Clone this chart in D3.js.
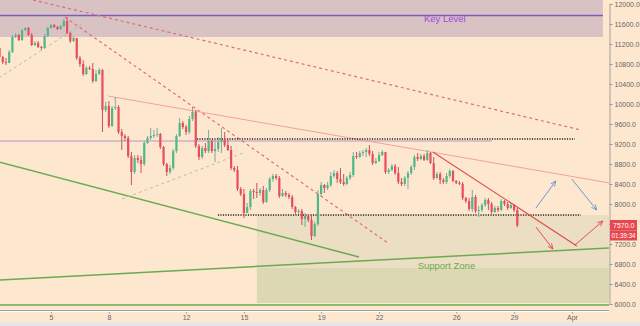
<!DOCTYPE html>
<html><head><meta charset="utf-8">
<script src="https://cdn.jsdelivr.net/npm/d3@7"></script>
<style>html,body{margin:0;padding:0;background:#fde8cf;overflow:hidden}svg{display:block}</style>
</head><body><svg id="c" width="640" height="326"></svg>
<script>
// ---------- data ----------
const candleStart = Date.UTC(2018, 2, 2, 8); // first 4h candle
const candleHours = 4;
const firstOpen = 11120;
const closes = [10940,10840,10820,11040,11340,11380,11280,11480,11520,11380,11180,11220,11140,11120,11360,11520,11580,11540,11500,11560,11660,11420,11260,11320,10920,10800,10600,10720,10700,10460,10600,10680,9880,9960,9560,9920,9940,9440,9360,9320,8960,8640,8920,8880,8800,9220,9320,9360,9380,9400,9140,8800,8640,8720,9060,9360,9620,9540,9440,9700,9840,9160,8940,9120,9060,9260,9060,9100,9240,9280,9180,9080,8720,8680,8300,8200,7820,7940,8260,8240,8220,8280,8040,8280,8500,8560,8520,8160,8220,8180,8140,7940,7840,7860,7700,7760,7680,7360,7600,8200,8380,8320,8380,8560,8620,8500,8440,8400,8520,8580,8960,8940,9020,9040,9080,9000,8820,8860,8980,9040,8640,8680,8760,8620,8440,8400,8520,8620,8740,8940,8900,8960,8880,9020,8820,8520,8600,8480,8440,8560,8660,8460,8420,8400,8120,8060,7900,8140,7860,7880,7980,8080,8000,7840,7920,7880,8060,8000,7920,7980,7880,7570];
const highs = [11160,10960,10920,11080,11380,11420,11400,11500,11540,11540,11420,11260,11260,11160,11400,11540,11600,11600,11560,11580,11700,11740,11440,11360,11320,10960,10880,10760,10760,10820,10680,10720,10700,10040,10060,9960,10140,9980,9500,9400,9360,9040,8980,8980,8960,9260,9360,9520,9480,9520,9420,9160,8820,8780,9100,9400,9720,9660,9580,9760,9940,9880,9200,9160,9220,9480,9280,9320,9340,9520,9440,9300,9160,8760,8760,8340,8300,8020,8300,8300,8420,8320,8360,8320,8540,8600,8600,8560,8300,8260,8220,8180,7960,7900,7900,7820,7800,7800,7640,8280,8440,8400,8440,8640,8680,8660,8720,8600,8560,8640,9040,9040,9060,9080,9120,9180,9060,8920,9040,9080,9020,8720,8800,8800,8740,8520,8560,8660,8780,8980,9020,9000,9000,9080,9040,8940,8640,8640,8520,8620,8700,8680,8480,8460,8440,8140,8120,8280,8180,7960,8020,8120,8120,8040,7960,7960,8100,8080,8040,8020,8000,7920];
const lows = [10920,10800,10780,10820,11020,11320,11260,11260,11460,11360,11160,11160,11120,11080,11100,11340,11500,11520,11480,11480,11540,11400,11220,11240,10880,10740,10560,10580,10680,10420,10440,10580,9440,9840,9520,9540,9880,9400,9080,9260,8920,8380,8600,8820,8620,8760,9200,9280,9320,9340,9100,8760,8560,8600,8680,9020,9340,9500,9380,9400,9660,9120,8880,8900,9020,9020,9020,8840,9040,9020,9140,9060,8680,8640,8260,8160,7720,7880,7880,8100,8120,8160,8000,8020,8240,8440,8480,8120,8140,8140,8100,7900,7800,7800,7580,7540,7640,7280,7340,7560,8160,8220,8280,8340,8520,8420,8400,8360,8380,8480,8540,8900,8920,8960,8940,8960,8780,8800,8840,8960,8600,8600,8660,8580,8400,8360,8360,8300,8580,8680,8860,8880,8860,8860,8800,8480,8500,8400,8400,8400,8520,8440,8400,8380,8080,8020,7860,7840,7820,7740,7840,7940,7880,7800,7820,7840,7860,7960,7880,7900,7840,7540];

const priceTicks = [6000,6400,6800,7200,7600,8000,8400,8800,9200,9600,10000,10400,10800,11200,11600,12000];
const dateTicks = [5,8,12,15,19,22,26,29,32];
const dateTickLabels = ["5","8","12","15","19","22","26","29","Apr"];

// annotation geometry in [day of March, price]
const keyZone = [[2.3, 12100],[33.6, 11340]];
const keyLevel = 11770;
const keyLabel = [24.33, 11640, "Key Level"];
const supportZoneUpper = [[15.67, 7780],[33.96, 6720]];
const supportZoneLower = [[15.67, 6720],[33.96, 6020]];
const supportLabel = [24.0, 6700, "Support Zone"];
const redDashedLong = [[4.07, 12080],[32.46, 9480]];
const redDashedSteep = [[5.72, 11740],[22.46, 7220]];
const greenDashed1 = [[2.3, 10520],[6.76, 11640]];
const greenDashed2 = [[8.68, 8100],[14.95, 9020]];
const lightRedLine = [[7.95, 10160],[33.96, 8420]];
const redTrend = [[24.79, 9040],[32.25, 7160]];
const greenDesc = [[2.3, 8840],[20.96, 6940]];
const greenSupport = [[2.3, 6480],[33.91, 7120]];
const greenFloor = [[2.3, 5980],[33.96, 5980]];
const dottedUpper = [[12.56, 9300],[32.15, 9300]];
const dottedLower = [[13.65, 7780],[32.46, 7780]];
const faintLine = [[2.3, 9260],[27.85, 9260]];
const blueArrows = [[[30.13, 7920],[31.16, 8460]], [[31.99, 8500],[33.28, 7880]]];
const redArrows = [[[30.13, 7540],[31.01, 7100]], [[32.15, 7180],[33.6, 7660]]];
const lastPrice = 7570;
const countdown = "01:39:34";

// ---------- scales ----------
const day = d => new Date(Date.UTC(2018, 2, 1) + (d - 1) * 86400000);
const x = d3.scaleUtc().domain([day(5), day(32)]).range([51, 572]);
const y = d3.scaleLinear().domain([6000, 12000]).range([304, 4]);
const X = d => x(day(d));

const svg = d3.select("#c");
svg.append("rect").attr("width",640).attr("height",326).attr("fill","#fde8cf");

const defs = svg.append("defs");
defs.append("clipPath").attr("id","plot").append("rect").attr("x",0).attr("y",0).attr("width",609).attr("height",310);
function marker(id, color){
  defs.append("marker").attr("id",id).attr("viewBox","0 0 10 10").attr("refX",9).attr("refY",5)
    .attr("markerWidth",6).attr("markerHeight",6).attr("orient","auto")
    .append("path").attr("d","M0,1 L9,5 L0,9").attr("fill","none").attr("stroke",color).attr("stroke-width",1.4);
}
marker("ab","#6f95d8"); marker("ar","#e0504a");

const g = svg.append("g").attr("clip-path","url(#plot)");

function rectZone(z, fill){
  g.append("rect").attr("x",X(z[0][0])).attr("y",y(z[0][1]))
   .attr("width",X(z[1][0])-X(z[0][0])).attr("height",y(z[1][1])-y(z[0][1])).attr("fill",fill);
}
rectZone(keyZone,"#d8c2c4");
rectZone(supportZoneUpper,"#ecdec2");
rectZone(supportZoneLower,"#dcd8b2");

function seg(p, stroke, w, dash, op, mk){
  const l = g.append("line").attr("x1",X(p[0][0])).attr("y1",y(p[0][1])).attr("x2",X(p[1][0])).attr("y2",y(p[1][1]))
    .attr("stroke",stroke).attr("stroke-width",w).attr("opacity",op||1);
  if (dash) l.attr("stroke-dasharray",dash);
  if (mk) l.attr("marker-end","url(#"+mk+")");
  return l;
}
seg(faintLine,"#d2b4c8",2,null,0.8);
seg([[2.3,keyLevel],[33.6,keyLevel]],"#7e5bbf",1.5);
seg(greenFloor,"#6aaa50",1.5);
seg(greenSupport,"#6aaa50",1.5);
seg(greenDesc,"#6aaa50",1.5);
seg(greenDashed1,"#a9c98e",1,"3,3");
seg(greenDashed2,"#a9c98e",1,"3,3");
seg(redDashedLong,"#e06b78",1.2,"3,3");
seg(redDashedSteep,"#e06b78",1.2,"3,3");
seg(lightRedLine,"#f2a09c",1);
seg(dottedUpper,"#222",1.3,"1.2,1.3");
seg(dottedLower,"#222",1.3,"1.2,1.3");

// candles
const bw = 2.2;
const cg = g.append("g");
closes.forEach((c,i)=>{
  const t = new Date(candleStart + i*candleHours*3600000);
  const o = i===0 ? firstOpen : closes[i-1];
  const up = c >= o;
  const cx = x(t);
  cg.append("line").attr("x1",cx).attr("x2",cx).attr("y1",y(highs[i])).attr("y2",y(lows[i]))
    .attr("stroke", up ? "#7fa8a0" : "#c2555d").attr("stroke-width",1);
  const top = y(Math.max(o,c)), bot = y(Math.min(o,c));
  cg.append("rect").attr("x",cx-bw/2).attr("y",top).attr("width",bw).attr("height",Math.max(1,bot-top))
    .attr("fill", up ? "#4fb886" : "#ea4d5c");
});

seg(redTrend,"#e0504a",1.2);
blueArrows.forEach(a=>seg(a,"#6f95d8",1,null,1,"ab"));
redArrows.forEach(a=>seg(a,"#e0504a",1,null,1,"ar"));

g.append("text").attr("x",X(keyLabel[0])).attr("y",y(keyLabel[1])).text(keyLabel[2])
  .attr("fill","#a347e6").attr("font-family","Liberation Sans, Arial, sans-serif").attr("font-size",9.5);
g.append("text").attr("x",X(supportLabel[0])).attr("y",y(supportLabel[1])).text(supportLabel[2])
  .attr("fill","#6aa84f").attr("font-family","Liberation Sans, Arial, sans-serif").attr("font-size",9.5);

// axes
const yAxis = d3.axisRight(y).tickValues(priceTicks).tickSize(3).tickPadding(2).tickFormat(d3.format(".1f"));
const ya = svg.append("g").attr("transform","translate(609.5,0)").call(yAxis);
const xAxis = d3.axisBottom(x).tickValues(dateTicks.map(day)).tickSize(3).tickPadding(2)
  .tickFormat((d,i)=>dateTickLabels[i]);
const xa = svg.append("g").attr("transform","translate(0,310.5)").call(xAxis);
[ya,xa].forEach(a=>{
  a.selectAll("text").attr("fill","#666").attr("font-family","Liberation Sans, Arial, sans-serif").attr("font-size",7);
  a.selectAll("line").attr("stroke","#999");
  a.select(".domain").attr("stroke","#a0a0a0");
});
xa.select(".domain").attr("d","M0,0H609");
svg.append("line").attr("x1",0).attr("x2",609).attr("y1",311.5).attr("y2",311.5).attr("stroke","#fff");
svg.append("rect").attr("x",0).attr("y",322).attr("width",640).attr("height",4).attr("fill","#e6e6e6");

// last price labels
const lp = svg.append("g");
lp.append("rect").attr("x",610).attr("y",y(lastPrice)-5.5).attr("width",27).attr("height",10.5).attr("fill","#e8474f");
lp.append("text").attr("x",613).attr("y",y(lastPrice)+2.5).text(d3.format(".1f")(lastPrice))
  .attr("fill","#fff").attr("font-family","Liberation Sans, Arial, sans-serif").attr("font-size",7);
lp.append("rect").attr("x",610).attr("y",y(lastPrice)+5).attr("width",27).attr("height",10).attr("fill","#e8474f");
lp.append("text").attr("x",611.5).attr("y",y(lastPrice)+12.5).text(countdown)
  .attr("textLength",24).attr("lengthAdjust","spacingAndGlyphs")
  .attr("fill","#fff").attr("font-family","Liberation Sans, Arial, sans-serif").attr("font-size",6.8);
</script></body></html>
